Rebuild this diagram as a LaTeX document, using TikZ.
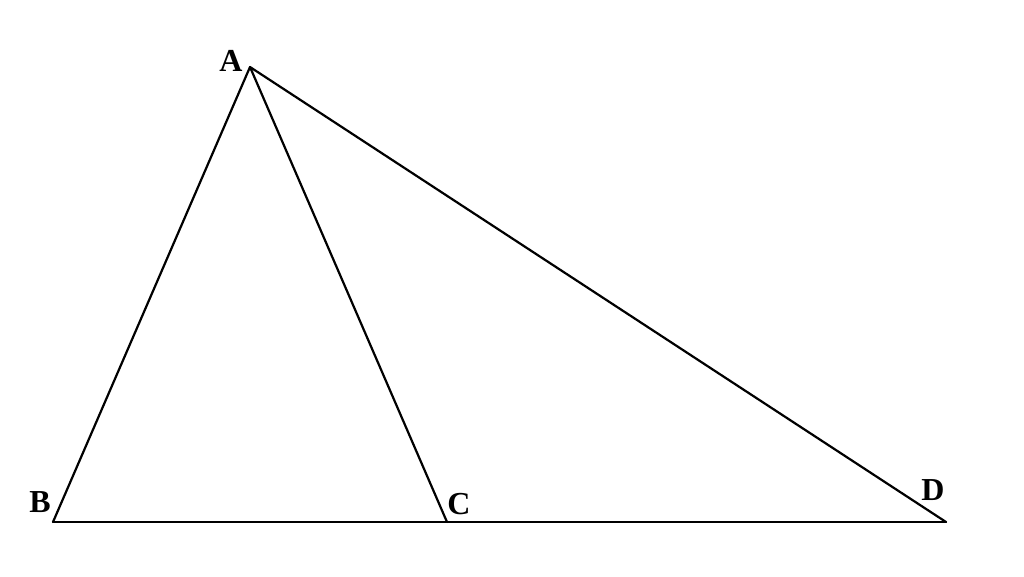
\documentclass[tikz,border=0pt]{standalone}
\usepackage{fontspec}
\setmainfont{Liberation Serif}
\begin{document}
\begin{tikzpicture}[x=1pt,y=-1pt,
  edge/.style={line width=2.2pt,line cap=round,line join=round},
  lbl/.style={font=\fontsize{32}{32}\selectfont\bfseries,inner sep=0pt}]
\useasboundingbox (0,0) rectangle (1024,576);
\coordinate (A) at (250,67);
\coordinate (B) at (53,522);
\coordinate (C) at (447,522);
\coordinate (D) at (946,522);
\draw[edge] (B) -- (A) -- (C);
\draw[edge] (A) -- (D);
\draw[edge] (B) -- (D);
\node[lbl] (lA) at (231,61) {A};
\node[lbl] (lB) at (40,502) {B};
\node[lbl] (lC) at (459,504) {C};
\node[lbl] (lD) at (933,490) {D};
\end{tikzpicture}
\end{document}
